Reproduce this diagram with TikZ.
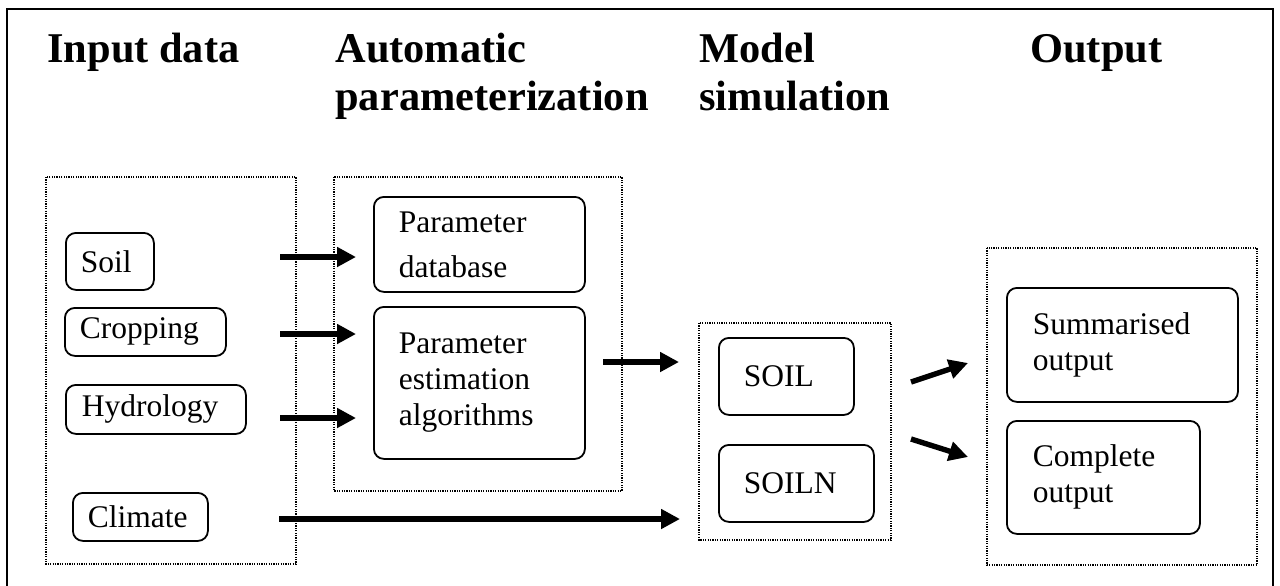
\documentclass[tikz,border=0pt]{standalone}
\usepackage{fontspec}
\setmainfont{Liberation Serif}
\usetikzlibrary{arrows.meta}
\begin{document}
\begin{tikzpicture}[x=0.5pt,y=-0.5pt,
	title/.style={font=\bfseries\fontsize{21.2}{24}\selectfont,align=left,anchor=base west,inner sep=0pt},
	rbox/.style={draw,line width=0.9pt,rounded corners=5pt,align=left,anchor=north west,inner ysep=2pt,font=\fontsize{15.75}{18}\selectfont},
	group/.style={line width=0.75pt,dash pattern=on 0.6pt off 0.6pt},
	arr/.style={line width=2.7pt,-{Triangle[length=9.5pt,width=9.5pt]}}]
	\useasboundingbox (0,0) rectangle (1280,585);
	\draw[line width=1pt] (7,9) rectangle (1273,620);

	% headings (base = last line)
	\node[title] (tin) at (47,62) {Input data};
	\node[title] (tauto) at (335,110) {Automatic\\parameterization};
	\node[title] (tmodel) at (699,110) {Model\\simulation};
	\node[title] (tout) at (1030,62) {Output};

	% groups
	\draw[group] (46,177) rectangle (296,564);
	\draw[group] (334,177) rectangle (622,491);
	\draw[group] (699,323) rectangle (891,540);
	\draw[group] (987,248) rectangle (1257,565);

	% input data
	\node[rbox,inner xsep=7.5pt,text width=29pt,minimum height=28.5pt] (soil) at (65,232) {Soil};
	\node[rbox,inner xsep=7.5pt,text width=65.5pt,minimum height=24pt] (crop) at (64,307) {Cropping};
	\node[rbox,inner xsep=8pt,text width=74pt,minimum height=24.5pt] (hydro) at (65,384) {Hydrology};
	\node[rbox,inner xsep=7.5pt,text width=52.5pt,minimum height=24pt] (climate) at (72,492) {Climate};

	% parameterization
	\node[rbox,inner xsep=12.5pt,text width=80.5pt,minimum height=47.5pt] (pardb) at (373,196) {Parameter\\[4.5pt]database};
	\node[rbox,inner xsep=12.5pt,text width=80.5pt,minimum height=76pt] (parest) at (373,306) {Parameter\\estimation\\algorithms};

	% model
	\node[rbox,inner xsep=12.5pt,text width=42.5pt,minimum height=38.5pt] (soilm) at (718,337) {SOIL};
	\node[rbox,inner xsep=12.5pt,text width=52.5pt,minimum height=38.5pt] (soiln) at (718,444) {SOILN};

	% output
	\node[rbox,inner xsep=13pt,text width=89.5pt,minimum height=57pt] (summ) at (1006,287) {Summarised\\output};
	\node[rbox,inner xsep=13pt,text width=70.5pt,minimum height=56.5pt] (compl) at (1006,420) {Complete\\output};

	% arrows
	\foreach \n/\xa/\xb/\y in {soil/280/356/257,crop/280/356/334,hydro/280/356/418,climate/279/680/519,parest/603/679/362}{
		\coordinate (\n-from) at (\xa,\y);
		\coordinate (\n-to) at (\xb,\y);
		\draw[arr] (\n-from) -- (\n-to);
	}
	\coordinate (soilm-from) at (911,382);
	\coordinate (summ-to) at (968,363);
	\coordinate (soiln-from) at (911,439);
	\coordinate (compl-to) at (968,457);
	\draw[arr] (soilm-from) -- (summ-to);
	\draw[arr] (soiln-from) -- (compl-to);
\end{tikzpicture}
\end{document}
